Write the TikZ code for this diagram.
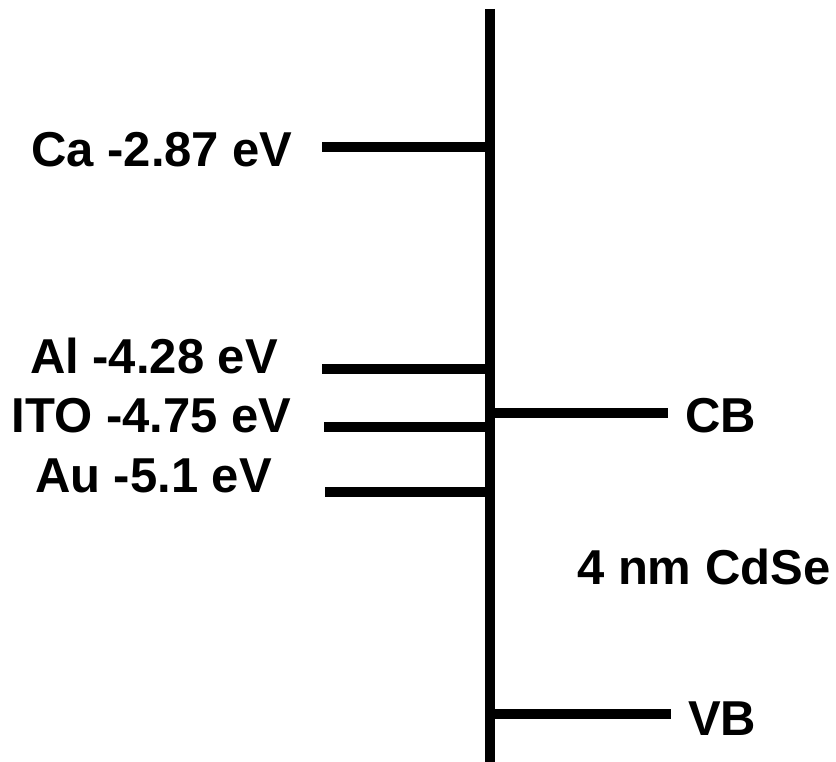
\documentclass[tikz,border=0pt]{standalone}
\usepackage{fontspec}
\setmainfont{Liberation Sans}
\begin{document}
\begin{tikzpicture}[x=1pt,y=-1pt,
  level/.style={line width=10pt,black},
  lbl/.style={inner sep=0pt,font=\bfseries\fontsize{49}{58}\selectfont}]
\useasboundingbox (0,0) rectangle (836,762);
% energy axis
\coordinate (top) at (490,9);
\coordinate (bot) at (490,762);
\draw[level] (top) -- (bot);
% electrode work functions
\coordinate (ca) at (322,147.5);
\coordinate (al) at (322,368.5);
\coordinate (ito) at (324,427);
\coordinate (au) at (325,492);
\foreach \c in {ca,al,ito,au} \draw[level] (\c) -- (\c -| top);
\node[lbl,anchor=base] (lca) at (162,167) {Ca -2.87 eV};
\node[lbl,anchor=base] (lal) at (154,373) {Al -4.28 eV};
\node[lbl,anchor=base] (lito) at (151.5,432) {ITO -4.75 eV};
\node[lbl,anchor=base] (lau) at (153.5,492) {Au -5.1 eV};
% CdSe band edges
\coordinate (cb) at (668,413);
\coordinate (vb) at (671,714);
\draw[level] (cb -| top) -- (cb);
\draw[level] (vb -| top) -- (vb);
\node[lbl,anchor=base west] (lcb) at (685,432) {CB};
\node[lbl,anchor=base west] (lvb) at (688,735) {VB};
\node[lbl,anchor=base west] (lcdse) at (577,584) {4 nm CdSe};
\end{tikzpicture}
\end{document}
